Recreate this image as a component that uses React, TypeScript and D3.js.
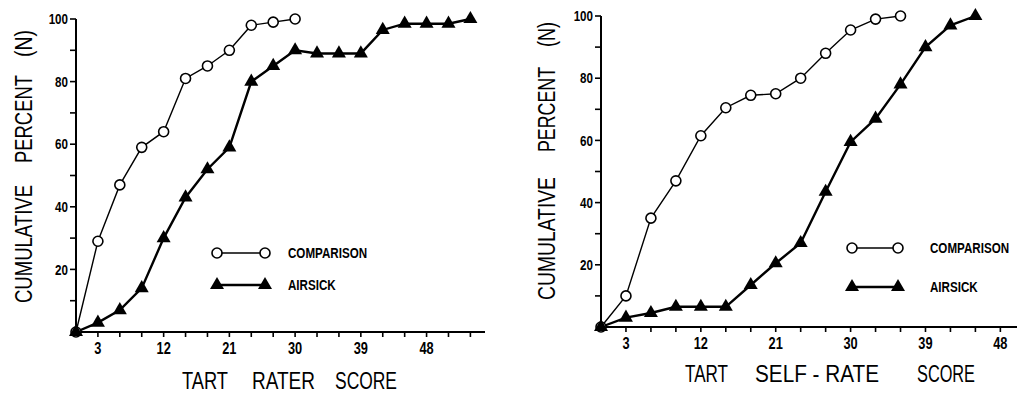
import React from 'react';
import * as d3 from 'd3';

const W = 1017, H = 395;

// ---- data ----
const raterCompX = [0, 3, 6, 9, 12, 15, 18, 21, 24, 27, 30];
const raterCompY = [0, 29, 47, 59, 64, 81, 85, 90, 98, 99, 100];
const raterAirX = [0, 3, 6, 9, 12, 15, 18, 21, 24, 27, 30, 33, 36, 39, 42, 45, 48, 51, 54];
const raterAirY = [0, 3, 7, 14, 30, 43, 52, 59, 80, 85, 90, 89, 89, 89, 96.5, 98.5, 98.5, 98.5, 100];
const selfCompX = [0, 3, 6, 9, 12, 15, 18, 21, 24, 27, 30, 33, 36];
const selfCompY = [0, 10, 35, 47, 61.5, 70.5, 74.5, 75, 80, 88, 95.5, 99, 100];
const selfAirX = [0, 3, 6, 9, 12, 15, 18, 21, 24, 27, 30, 33, 36, 39, 42, 45];
const selfAirY = [0, 3, 4.5, 6.5, 6.5, 6.5, 13.5, 20.5, 27, 43.5, 59.5, 67, 78, 90, 97, 100];
const xTickLabels = [3, 12, 21, 30, 39, 48];
const yTickLabels = [20, 40, 60, 80, 100];
const legendLabels = ['COMPARISON', 'AIRSICK'];
const yTitleWords = ['CUMULATIVE', 'PERCENT', '(N)'];
const raterTitleWords = ['TART', 'RATER', 'SCORE'];
const selfTitleWords = ['TART', 'SELF - RATE', 'SCORE'];

const FONT = '"Liberation Sans", Arial, sans-serif';
const SX = 0.8; // horizontal condensing of the typeface

type Span = [number, number];
type PanelProps = {
  xr: [number, number]; xMax: number; yr: [number, number];
  compX: number[]; compY: number[]; airX: number[]; airY: number[];
  tickMax: number;
  yTitleX: number; yTitleSpans: Span[];
  xTitleY: number; xTitleWords: string[]; xTitleSpans: Span[];
  legX: [number, number]; legY: [number, number]; legTextX: number;
};

const tri = d3.symbol().type(d3.symbolTriangle).size(85)();

function T(props: { x: number; y: number; size: number; bold?: boolean; anchor?: string; dy?: string; children: React.ReactNode }) {
  const { x, y, size, bold, anchor, dy, children } = props;
  return (
    <text transform={`translate(${x},${y}) scale(${SX},1)`}
      textAnchor={anchor || 'start'} dy={dy} fontFamily={FONT} fontWeight={bold ? 'bold' : 'normal'} fontSize={size}>
      {children}
    </text>
  );
}

function Panel(p: PanelProps) {
  const x = d3.scaleLinear().domain([0, p.xMax]).range(p.xr);
  const y = d3.scaleLinear().domain([0, 100]).range(p.yr);
  const line = d3.line<[number, number]>().x(d => x(d[0])).y(d => y(d[1]));
  const comp = p.compX.map((v, i) => [v, p.compY[i]] as [number, number]);
  const air = p.airX.map((v, i) => [v, p.airY[i]] as [number, number]);
  const xt = d3.range(3, p.tickMax + 1, 3);
  const yt = d3.range(10, 101, 10);
  const x0 = x(0), y0 = y(0);
  return (
    <g>
      {/* axes */}
      <line x1={x0} x2={x0} y1={y0} y2={y(100)} stroke="#000" strokeWidth={2} />
      <line x1={x0} x2={p.xr[1]} y1={y0} y2={y0} stroke="#000" strokeWidth={2} />
      {yt.map(t => (
        <line key={'yt' + t} x1={x0 - 6} x2={x0} y1={y(t)} y2={y(t)} stroke="#000" strokeWidth={1.6} />
      ))}
      {yTickLabels.map(t => (
        <T key={'yl' + t} x={x0 - 8} y={y(t)} dy="0.36em" anchor="end" bold size={14.5}>{t}</T>
      ))}
      {xt.map(t => (
        <line key={'xt' + t} x1={x(t)} x2={x(t)} y1={y0} y2={y0 + 5} stroke="#000" strokeWidth={1.6} />
      ))}
      {xTickLabels.map(t => (
        <T key={'xl' + t} x={x(t)} y={y0 + 22} anchor="middle" bold size={16}>{t}</T>
      ))}
      {/* series */}
      <path d={line(comp) || ''} fill="none" stroke="#000" strokeWidth={1.4} />
      <path d={line(air) || ''} fill="none" stroke="#000" strokeWidth={2.4} />
      {comp.map((d, i) => (
        <circle key={'c' + i} cx={x(d[0])} cy={y(d[1])} r={5} fill="#fff" stroke="#000" strokeWidth={1.6} />
      ))}
      {air.map((d, i) => (
        <path key={'a' + i} d={tri || ''} transform={`translate(${x(d[0])},${y(d[1])})`} fill="#000" />
      ))}
      {/* legend */}
      <line x1={p.legX[0]} x2={p.legX[1]} y1={p.legY[0]} y2={p.legY[0]} stroke="#000" strokeWidth={1.4} />
      {p.legX.map((lx, i) => (
        <circle key={'lc' + i} cx={lx} cy={p.legY[0]} r={5} fill="#fff" stroke="#000" strokeWidth={1.6} />
      ))}
      <line x1={p.legX[0]} x2={p.legX[1]} y1={p.legY[1]} y2={p.legY[1]} stroke="#000" strokeWidth={2.4} />
      {p.legX.map((lx, i) => (
        <path key={'lt' + i} d={tri || ''} transform={`translate(${lx},${p.legY[1]})`} fill="#000" />
      ))}
      {legendLabels.map((s, i) => (
        <T key={'lg' + i} x={p.legTextX} y={p.legY[i]} dy="0.36em" bold size={14.5}>{s}</T>
      ))}
      {/* y title: rotated words, each fitted to its span (bottom -> top) */}
      {yTitleWords.map((w, i) => {
        const [b, t] = p.yTitleSpans[i];
        return (
          <text key={'yw' + i} transform={`translate(${p.yTitleX},${b}) rotate(-90)`}
            fontFamily={FONT} fontSize={23} textLength={b - t} lengthAdjust="spacingAndGlyphs">{w}</text>
        );
      })}
      {/* x title words, each fitted to its span */}
      {p.xTitleWords.map((w, i) => {
        const [l, r] = p.xTitleSpans[i];
        return (
          <text key={'xw' + i} x={l} y={p.xTitleY} fontFamily={FONT} fontSize={24} xmlSpace="preserve"
            textLength={r - l} lengthAdjust="spacingAndGlyphs">{w}</text>
        );
      })}
    </g>
  );
}

export default function App() {
  return (
    <svg width={W} height={H} style={{ position: 'absolute', left: 0, top: 0, background: '#fff' }}>
      <rect width={W} height={H} fill="#fff" />
      <Panel xr={[76, 485]} xMax={56} yr={[332, 19]}
        compX={raterCompX} compY={raterCompY} airX={raterAirX} airY={raterAirY}
        tickMax={54}
        yTitleX={32} yTitleSpans={[[303, 185], [163, 75], [57, 30]]}
        xTitleY={389} xTitleWords={raterTitleWords} xTitleSpans={[[182, 228], [252, 315], [335, 397]]}
        legX={[217, 265]} legY={[253, 285]} legTextX={288} />
      <Panel xr={[601, 1017]} xMax={50} yr={[327, 16]}
        compX={selfCompX} compY={selfCompY} airX={selfAirX} airY={selfAirY}
        tickMax={48}
        yTitleX={555} yTitleSpans={[[300, 177], [152, 67], [47, 22]]}
        xTitleY={382} xTitleWords={selfTitleWords}
        xTitleSpans={[[685, 728], [755, 879], [917, 975]]}
        legX={[852, 898]} legY={[248, 287]} legTextX={930} />
    </svg>
  );
}
